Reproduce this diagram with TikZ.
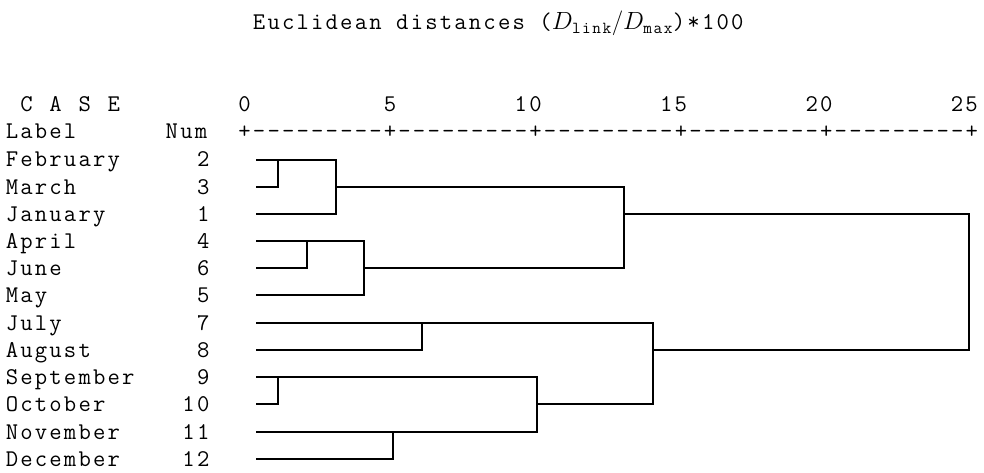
\documentclass[tikz,border=0pt]{standalone}
\usepackage{fontspec}
\usepackage{amsmath}
% typewriter face widened to a 14.54pt character cell, no dash ligatures
\setmonofont{Latin Modern Mono}[LetterSpace=9.1,Ligatures=TeXOff]
\newcommand\gridfont{\fontsize{24}{27}\ttfamily\spaceskip 14.54pt\relax}
\begin{document}
\begin{tikzpicture}[x=1pt,y=-1pt,
  txt/.style={inner sep=0pt,outer sep=0pt,anchor=base west,font=\gridfont},
  num/.style={txt,anchor=base east},
  tree/.style={line width=2pt,line cap=rect,line join=miter,black}]
\useasboundingbox (0,0) rectangle (984,473);
% character grid: column c starts at 5.8 + 14.54 c
\def\colx#1{5.8+14.54*#1}
% title
\node[txt] (title) at ({\colx{17}},30) {Euclidean distances (\(D_{\text{link}}/D_{\text{max}}\))*100};
% axis header
\foreach \c/\ch in {1/C,3/A,5/S,7/E}{
  \node[txt] (case\c) at ({\colx{\c}},112) {\ch};
}
\node[txt] (t0)  at ({\colx{16}},112) {0};
\node[txt] (t5)  at ({\colx{26}},112) {5};
\node[txt] (t10) at ({\colx{35}},112) {10};
\node[txt] (t15) at ({\colx{45}},112) {15};
\node[txt] (t20) at ({\colx{55}},112) {20};
\node[txt] (t25) at ({\colx{65}},112) {25};
\node[txt] (lab) at ({\colx{0}},139) {Label};
\node[txt] (numh) at ({\colx{11}},139) {Num};
\node[txt] (axis) at ({\colx{16}},139) {+---------+---------+---------+---------+---------+};
% case rows: label, number, and the start of each leaf line
\foreach \k/\name/\n/\yy in {0/February/2/160,1/March/3/187,2/January/1/214,3/April/4/241,
                             4/June/6/268,5/May/5/295,6/July/7/323,7/August/8/350,
                             8/September/9/377,9/October/10/404,10/November/11/432,11/December/12/459}{
  \node[txt] (l\n) at ({\colx{0}},\yy+7) {\name};
  \node[num] (n\n) at ({\colx{14}},\yy+7) {\n};
  \coordinate (s\n) at (257,\yy);
}
% merge positions
\coordinate (m23)  at (278,0);
\coordinate (m123) at (336,0);
\coordinate (m46)  at (307,0);
\coordinate (m456) at (364,0);
\coordinate (mA)   at (624,0);
\coordinate (m910) at (278,0);
\coordinate (m1112) at (393,0);
\coordinate (mS)   at (537,0);
\coordinate (m78)  at (422,0);
\coordinate (mB)   at (653,0);
\coordinate (mAll) at (969,0);
% January - March cluster
\draw[tree] (s2) -- (s2 -| m123) -- (s1 -| m123) -- (s1);
\draw[tree] (s3) -- (s3 -| m23) -- (s2 -| m23);
% April - June cluster
\draw[tree] (s4) -- (s4 -| m456) -- (s5 -| m456) -- (s5);
\draw[tree] (s6) -- (s6 -| m46) -- (s4 -| m46);
% spring/winter join
\draw[tree] (s3 -| m123) -- (s3 -| mA);
\draw[tree] (s6 -| m456) -- (s6 -| mA);
\draw[tree] (s3 -| mA) -- (s6 -| mA);
% July - August
\draw[tree] (s7) -- (s7 -| mB);
\draw[tree] (s8) -- (s8 -| m78) -- (s7 -| m78);
% September - December
\draw[tree] (s9) -- (s9 -| mS) -- (s11 -| mS);
\draw[tree] (s10) -- (s10 -| m910) -- (s9 -| m910);
\draw[tree] (s11) -- (s11 -| mS);
\draw[tree] (s12) -- (s12 -| m1112) -- (s11 -| m1112);
\draw[tree] (s10 -| mS) -- (s10 -| mB);
\draw[tree] (s7 -| mB) -- (s10 -| mB);
% final join
\draw[tree] (s1 -| mA) -- (s1 -| mAll) -- (s8 -| mAll) -- (s8 -| mB);
\end{tikzpicture}
\end{document}
